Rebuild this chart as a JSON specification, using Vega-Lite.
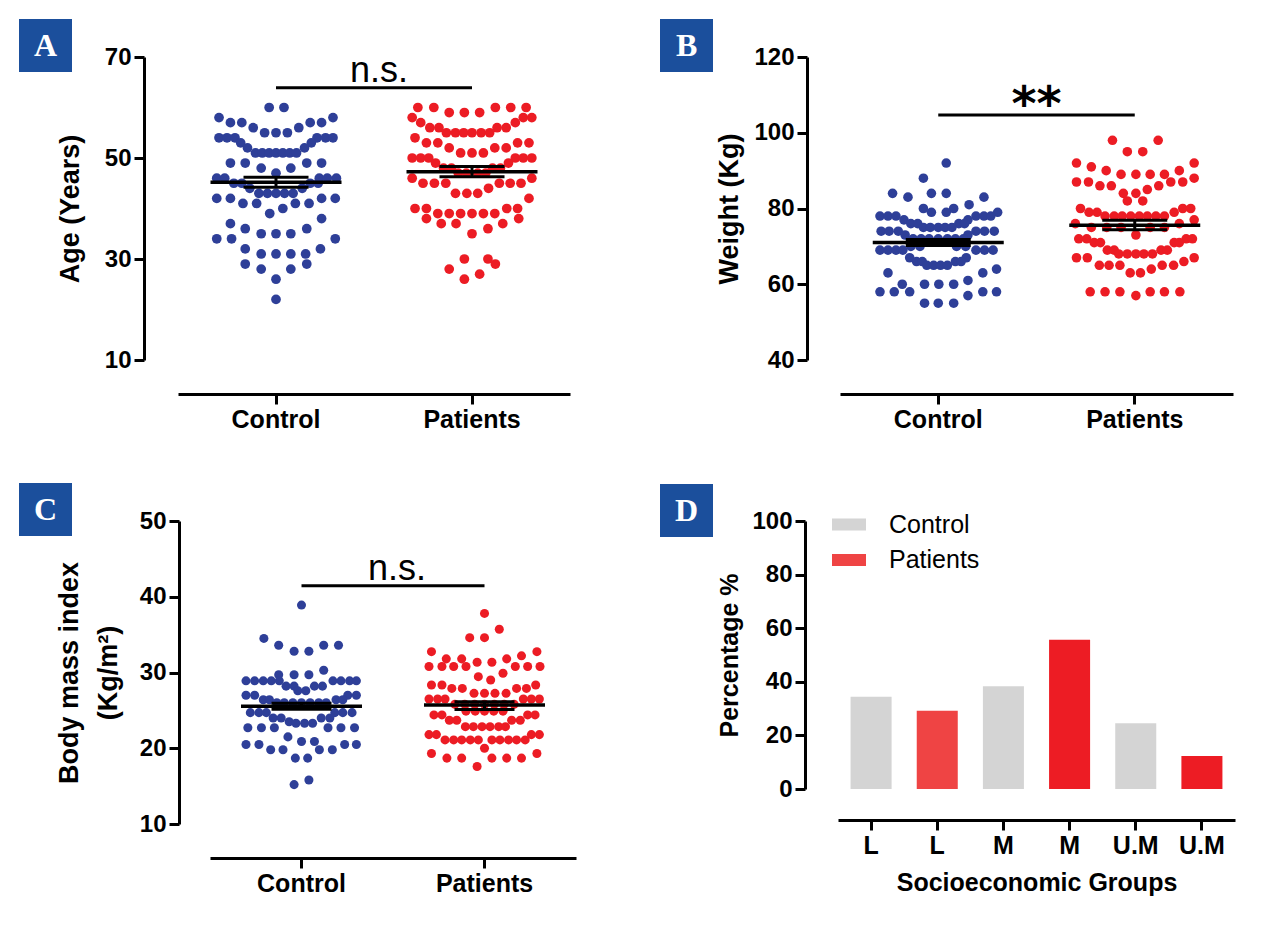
{
"$schema":"https://vega.github.io/schema/vega-lite/v6.json",
"background":"white",
"padding":{"left":18,"top":19,"right":10,"bottom":10},
"config":{"view":{"stroke":null},"font":"Liberation Sans",
"axis":{"grid":false,"domainColor":"#000","domainWidth":3,"tickColor":"#000","tickWidth":3,"tickSize":10,"labelFont":"Liberation Sans","labelFontWeight":"bold","labelFontSize":24,"labelColor":"#000","titleFont":"Liberation Sans","titleFontWeight":"bold","titleFontSize":27,"titleColor":"#000","labelPadding":3},
"axisX":{"labelAngle":0,"labelFontSize":25}},
"resolve":{"scale":{"color":"independent","shape":"independent","xOffset":"independent"},"legend":{"color":"independent","shape":"independent"}},
"datasets":{
"ptsA":[
{"g":"Control","v":60,"s":-0.6},{"g":"Control","v":60,"s":0.7},{"g":"Control","v":58,"s":-5},{"g":"Control","v":58,"s":5},{"g":"Control","v":57,"s":-4},{"g":"Control","v":57,"s":-3},{"g":"Control","v":57,"s":3},{"g":"Control","v":57,"s":4},{"g":"Control","v":56,"s":-2},{"g":"Control","v":56,"s":2},{"g":"Control","v":55,"s":-1},{"g":"Control","v":55,"s":0},{"g":"Control","v":55,"s":1},
{"g":"Control","v":54,"s":-5},{"g":"Control","v":54,"s":-4.3},{"g":"Control","v":54,"s":-3.6},{"g":"Control","v":54,"s":3.6},{"g":"Control","v":54,"s":4.35},{"g":"Control","v":54,"s":5},{"g":"Control","v":53,"s":-3.1},{"g":"Control","v":53,"s":3.1},{"g":"Control","v":52,"s":-2.5},{"g":"Control","v":52,"s":2.5},
{"g":"Control","v":51,"s":-1.8},{"g":"Control","v":51,"s":-1.2},{"g":"Control","v":51,"s":-0.6},{"g":"Control","v":51,"s":0},{"g":"Control","v":51,"s":0.6},{"g":"Control","v":51,"s":1.2},{"g":"Control","v":51,"s":1.8},
{"g":"Control","v":49,"s":-4},{"g":"Control","v":49,"s":-2.7},{"g":"Control","v":49,"s":2.7},{"g":"Control","v":49,"s":4},{"g":"Control","v":48,"s":-1.3},{"g":"Control","v":48,"s":1.3},{"g":"Control","v":47,"s":0},
{"g":"Control","v":46,"s":-5.2},{"g":"Control","v":46,"s":-4.5},{"g":"Control","v":46,"s":3.8},{"g":"Control","v":46,"s":4.5},{"g":"Control","v":46,"s":5.3},{"g":"Control","v":45,"s":-3.7},{"g":"Control","v":45,"s":-3},{"g":"Control","v":45,"s":3},{"g":"Control","v":45,"s":3.7},{"g":"Control","v":44,"s":-2.3},{"g":"Control","v":44,"s":2.3},
{"g":"Control","v":43,"s":-1.5},{"g":"Control","v":43,"s":-0.75},{"g":"Control","v":43,"s":0},{"g":"Control","v":43,"s":0.75},{"g":"Control","v":43,"s":1.5},{"g":"Control","v":42,"s":-5.2},{"g":"Control","v":42,"s":-4},{"g":"Control","v":42,"s":4},{"g":"Control","v":42,"s":5.2},
{"g":"Control","v":41,"s":-2.9},{"g":"Control","v":41,"s":-1.7},{"g":"Control","v":41,"s":1.7},{"g":"Control","v":41,"s":2.9},{"g":"Control","v":40,"s":0.6},{"g":"Control","v":39,"s":-0.55},{"g":"Control","v":38,"s":4},{"g":"Control","v":37,"s":-4},{"g":"Control","v":36,"s":-2.7},{"g":"Control","v":36,"s":2.7},
{"g":"Control","v":35,"s":-1.3},{"g":"Control","v":35,"s":0},{"g":"Control","v":35,"s":1.3},{"g":"Control","v":34,"s":-5.2},{"g":"Control","v":34,"s":-3.9},{"g":"Control","v":34,"s":5.2},{"g":"Control","v":32,"s":-2.7},{"g":"Control","v":32,"s":3.9},
{"g":"Control","v":31,"s":-1.3},{"g":"Control","v":31,"s":0},{"g":"Control","v":31,"s":1.3},{"g":"Control","v":31,"s":2.6},{"g":"Control","v":29,"s":-2.7},{"g":"Control","v":29,"s":2.7},{"g":"Control","v":28,"s":-1.3},{"g":"Control","v":28,"s":1.3},{"g":"Control","v":26,"s":0},{"g":"Control","v":22,"s":0},
{"g":"Patients","v":60,"s":-4.75},{"g":"Patients","v":60,"s":-3.35},{"g":"Patients","v":60,"s":2.05},{"g":"Patients","v":60,"s":3.4},{"g":"Patients","v":60,"s":4.75},{"g":"Patients","v":59,"s":-2},{"g":"Patients","v":59,"s":-0.67},{"g":"Patients","v":59,"s":0.67},
{"g":"Patients","v":58,"s":-5.25},{"g":"Patients","v":58,"s":4.5},{"g":"Patients","v":58,"s":5.25},{"g":"Patients","v":57,"s":-4.5},{"g":"Patients","v":57,"s":3.8},{"g":"Patients","v":56,"s":-3.7},{"g":"Patients","v":56,"s":-2.9},{"g":"Patients","v":56,"s":2.2},{"g":"Patients","v":56,"s":3},
{"g":"Patients","v":55,"s":-2.25},{"g":"Patients","v":55,"s":-1.45},{"g":"Patients","v":55,"s":-0.73},{"g":"Patients","v":55,"s":0},{"g":"Patients","v":55,"s":0.8},{"g":"Patients","v":55,"s":1.55},{"g":"Patients","v":54,"s":-5},
{"g":"Patients","v":53,"s":-4},{"g":"Patients","v":53,"s":-3},{"g":"Patients","v":53,"s":4},{"g":"Patients","v":53,"s":5},{"g":"Patients","v":52,"s":-2},{"g":"Patients","v":52,"s":2},{"g":"Patients","v":52,"s":3},{"g":"Patients","v":51,"s":-1},{"g":"Patients","v":51,"s":0},{"g":"Patients","v":51,"s":1},
{"g":"Patients","v":50,"s":-5.25},{"g":"Patients","v":50,"s":-4.5},{"g":"Patients","v":50,"s":-3.8},{"g":"Patients","v":50,"s":3.8},{"g":"Patients","v":50,"s":4.5},{"g":"Patients","v":50,"s":5.25},{"g":"Patients","v":49,"s":-3.2},{"g":"Patients","v":49,"s":3.2},
{"g":"Patients","v":48,"s":-2.5},{"g":"Patients","v":48,"s":-1.8},{"g":"Patients","v":48,"s":1.8},{"g":"Patients","v":48,"s":2.5},{"g":"Patients","v":47,"s":-1.2},{"g":"Patients","v":47,"s":-0.5},{"g":"Patients","v":47,"s":0.5},{"g":"Patients","v":47,"s":1.2},
{"g":"Patients","v":46,"s":-5.25},{"g":"Patients","v":46,"s":5.25},{"g":"Patients","v":45,"s":-4.3},{"g":"Patients","v":45,"s":-3.3},{"g":"Patients","v":45,"s":-2.3},{"g":"Patients","v":45,"s":2.4},{"g":"Patients","v":45,"s":3.35},{"g":"Patients","v":45,"s":4.3},
{"g":"Patients","v":44,"s":1.45},{"g":"Patients","v":43,"s":-1.45},{"g":"Patients","v":43,"s":-0.45},{"g":"Patients","v":43,"s":0.5},{"g":"Patients","v":42,"s":5},
{"g":"Patients","v":40,"s":-5},{"g":"Patients","v":40,"s":-4},{"g":"Patients","v":40,"s":3.05},{"g":"Patients","v":40,"s":4},{"g":"Patients","v":39,"s":-3},{"g":"Patients","v":39,"s":-2},{"g":"Patients","v":39,"s":-1},{"g":"Patients","v":39,"s":0},{"g":"Patients","v":39,"s":1},{"g":"Patients","v":39,"s":2},
{"g":"Patients","v":38,"s":-4},{"g":"Patients","v":38,"s":4.1},{"g":"Patients","v":37,"s":-2.7},{"g":"Patients","v":37,"s":-1.4},{"g":"Patients","v":37,"s":2.7},{"g":"Patients","v":36,"s":1.4},{"g":"Patients","v":35,"s":0},
{"g":"Patients","v":30,"s":-0.67},{"g":"Patients","v":30,"s":1.4},{"g":"Patients","v":29,"s":2.05},{"g":"Patients","v":28,"s":-2},{"g":"Patients","v":27,"s":0.67},{"g":"Patients","v":26,"s":-0.67}
],
"ptsB":[
{"g":"Control","v":92,"s":0.7},{"g":"Control","v":88,"s":-1.3},{"g":"Control","v":84,"s":-4},{"g":"Control","v":84,"s":-0.6},{"g":"Control","v":84,"s":0.7},{"g":"Control","v":83,"s":-2.65},{"g":"Control","v":83,"s":4},{"g":"Control","v":81,"s":2.7},{"g":"Control","v":80,"s":-1.3},{"g":"Control","v":80,"s":1.35},{"g":"Control","v":79,"s":-0.6},{"g":"Control","v":79,"s":0.7},{"g":"Control","v":79,"s":5.2},
{"g":"Control","v":78,"s":-5.1},{"g":"Control","v":78,"s":-4.4},{"g":"Control","v":78,"s":-3.7},{"g":"Control","v":78,"s":3.3},{"g":"Control","v":78,"s":4},{"g":"Control","v":78,"s":4.6},{"g":"Control","v":77,"s":-3},{"g":"Control","v":77,"s":2.6},
{"g":"Control","v":76,"s":-2.4},{"g":"Control","v":76,"s":-1.8},{"g":"Control","v":76,"s":1.8},{"g":"Control","v":76,"s":2.3},{"g":"Control","v":75,"s":-1.3},{"g":"Control","v":75,"s":-0.7},{"g":"Control","v":75,"s":0},{"g":"Control","v":75,"s":0.6},{"g":"Control","v":75,"s":1.2},
{"g":"Control","v":74,"s":-5},{"g":"Control","v":74,"s":-4.3},{"g":"Control","v":74,"s":-3.5},{"g":"Control","v":74,"s":3.3},{"g":"Control","v":74,"s":4.05},{"g":"Control","v":74,"s":4.9},{"g":"Control","v":73,"s":-2.9},{"g":"Control","v":73,"s":2.6},
{"g":"Control","v":72,"s":-2.2},{"g":"Control","v":72,"s":-1.5},{"g":"Control","v":72,"s":-0.8},{"g":"Control","v":72,"s":0},{"g":"Control","v":72,"s":0.8},{"g":"Control","v":72,"s":1.5},{"g":"Control","v":72,"s":2.2},
{"g":"Control","v":70,"s":-2.4},{"g":"Control","v":70,"s":-1.6},{"g":"Control","v":70,"s":1.6},{"g":"Control","v":70,"s":2.4},
{"g":"Control","v":69,"s":-5.1},{"g":"Control","v":69,"s":-4.4},{"g":"Control","v":69,"s":-3.7},{"g":"Control","v":69,"s":-3.1},{"g":"Control","v":69,"s":3.3},{"g":"Control","v":69,"s":4.05},{"g":"Control","v":69,"s":4.8},
{"g":"Control","v":67,"s":-2.5},{"g":"Control","v":67,"s":2.45},{"g":"Control","v":66,"s":-1.9},{"g":"Control","v":66,"s":-1.4},{"g":"Control","v":66,"s":1.5},{"g":"Control","v":66,"s":2},
{"g":"Control","v":65,"s":-1},{"g":"Control","v":65,"s":-0.4},{"g":"Control","v":65,"s":0.2},{"g":"Control","v":65,"s":0.8},{"g":"Control","v":64,"s":5.1},{"g":"Control","v":63,"s":-4.4},{"g":"Control","v":63,"s":3.9},{"g":"Control","v":61,"s":2.6},
{"g":"Control","v":60,"s":-3.15},{"g":"Control","v":60,"s":-1.2},{"g":"Control","v":60,"s":0.05},{"g":"Control","v":60,"s":1.35},
{"g":"Control","v":58,"s":-5.1},{"g":"Control","v":58,"s":-3.85},{"g":"Control","v":58,"s":-2.5},{"g":"Control","v":58,"s":3.9},{"g":"Control","v":58,"s":5.1},{"g":"Control","v":57,"s":2.6},{"g":"Control","v":55,"s":-1.2},{"g":"Control","v":55,"s":0},{"g":"Control","v":55,"s":1.35},
{"g":"Patients","v":98,"s":-1.95},{"g":"Patients","v":98,"s":2.05},{"g":"Patients","v":95,"s":-0.65},{"g":"Patients","v":95,"s":0.7},{"g":"Patients","v":92,"s":-5.1},{"g":"Patients","v":92,"s":5.2},{"g":"Patients","v":91,"s":-3.8},{"g":"Patients","v":90,"s":-2.5},{"g":"Patients","v":90,"s":3.9},
{"g":"Patients","v":89,"s":-1.2},{"g":"Patients","v":89,"s":0.1},{"g":"Patients","v":89,"s":1.35},{"g":"Patients","v":89,"s":2.6},{"g":"Patients","v":88,"s":5.2},{"g":"Patients","v":87,"s":-5.1},{"g":"Patients","v":87,"s":-4.05},{"g":"Patients","v":87,"s":3.15},{"g":"Patients","v":87,"s":4.2},
{"g":"Patients","v":86,"s":-3.05},{"g":"Patients","v":86,"s":-2.05},{"g":"Patients","v":86,"s":2.1},{"g":"Patients","v":85,"s":1.1},{"g":"Patients","v":84,"s":-1},{"g":"Patients","v":84,"s":0.1},{"g":"Patients","v":82,"s":-0.65},{"g":"Patients","v":82,"s":0.7},
{"g":"Patients","v":80,"s":-4.75},{"g":"Patients","v":80,"s":4.2},{"g":"Patients","v":80,"s":4.9},{"g":"Patients","v":79,"s":-4},{"g":"Patients","v":79,"s":-3.3},{"g":"Patients","v":79,"s":3.45},
{"g":"Patients","v":78,"s":-2.6},{"g":"Patients","v":78,"s":-1.8},{"g":"Patients","v":78,"s":-1.1},{"g":"Patients","v":78,"s":-0.35},{"g":"Patients","v":78,"s":0.4},{"g":"Patients","v":78,"s":1.1},{"g":"Patients","v":78,"s":1.85},{"g":"Patients","v":78,"s":2.6},
{"g":"Patients","v":77,"s":5.2},{"g":"Patients","v":76,"s":-5.2},{"g":"Patients","v":76,"s":3.9},{"g":"Patients","v":75,"s":-3.8},{"g":"Patients","v":75,"s":-2.45},{"g":"Patients","v":75,"s":-1.2},{"g":"Patients","v":75,"s":1.35},{"g":"Patients","v":75,"s":2.6},{"g":"Patients","v":73,"s":0.1},
{"g":"Patients","v":72,"s":-4.9},{"g":"Patients","v":72,"s":-4.2},{"g":"Patients","v":72,"s":4.5},{"g":"Patients","v":72,"s":5.05},{"g":"Patients","v":71,"s":-3.55},{"g":"Patients","v":71,"s":-3},{"g":"Patients","v":71,"s":3.45},{"g":"Patients","v":71,"s":3.9},
{"g":"Patients","v":69,"s":-2.4},{"g":"Patients","v":69,"s":-1.8},{"g":"Patients","v":69,"s":2.3},{"g":"Patients","v":69,"s":2.85},{"g":"Patients","v":68,"s":-1.4},{"g":"Patients","v":68,"s":-0.65},{"g":"Patients","v":68,"s":0.1},{"g":"Patients","v":68,"s":0.8},{"g":"Patients","v":68,"s":1.55},
{"g":"Patients","v":67,"s":-5.1},{"g":"Patients","v":67,"s":-4.15},{"g":"Patients","v":67,"s":5.2},{"g":"Patients","v":66,"s":4.3},{"g":"Patients","v":65,"s":-3.1},{"g":"Patients","v":65,"s":-2.25},{"g":"Patients","v":65,"s":-1.3},{"g":"Patients","v":65,"s":2.4},{"g":"Patients","v":65,"s":3.4},
{"g":"Patients","v":64,"s":1.45},{"g":"Patients","v":63,"s":-0.4},{"g":"Patients","v":63,"s":0.5},
{"g":"Patients","v":58,"s":-3.9},{"g":"Patients","v":58,"s":-2.6},{"g":"Patients","v":58,"s":-1.3},{"g":"Patients","v":58,"s":1.35},{"g":"Patients","v":58,"s":2.6},{"g":"Patients","v":58,"s":3.95},{"g":"Patients","v":57,"s":0.1}
],
"ptsC":[
{"g":"Control","v":38.9,"s":0},{"g":"Control","v":34.5,"s":-3.05},{"g":"Control","v":33.6,"s":-1.85},{"g":"Control","v":33.6,"s":1.8},{"g":"Control","v":33.6,"s":3},{"g":"Control","v":32.8,"s":-0.6},{"g":"Control","v":32.8,"s":0.6},{"g":"Control","v":30.3,"s":1.8},
{"g":"Control","v":29.7,"s":-1.85},{"g":"Control","v":29.7,"s":-0.6},{"g":"Control","v":29.7,"s":0.6},
{"g":"Control","v":28.9,"s":-4.5},{"g":"Control","v":28.9,"s":-3.8},{"g":"Control","v":28.9,"s":-3.1},{"g":"Control","v":28.9,"s":-2.45},{"g":"Control","v":28.9,"s":-1.8},{"g":"Control","v":28.9,"s":2.55},{"g":"Control","v":28.9,"s":3.2},{"g":"Control","v":28.9,"s":3.9},{"g":"Control","v":28.9,"s":4.45},
{"g":"Control","v":28.2,"s":-1.25},{"g":"Control","v":28.2,"s":-0.6},{"g":"Control","v":28.2,"s":1.05},{"g":"Control","v":28.2,"s":1.7},{"g":"Control","v":27.6,"s":-0.3},{"g":"Control","v":27.6,"s":0.35},
{"g":"Control","v":27,"s":-4.5},{"g":"Control","v":27,"s":-3.8},{"g":"Control","v":27,"s":3.75},{"g":"Control","v":27,"s":4.45},{"g":"Control","v":26.4,"s":-3.1},{"g":"Control","v":26.4,"s":-2.6},{"g":"Control","v":26.4,"s":2.8},{"g":"Control","v":26.4,"s":3.35},
{"g":"Control","v":26,"s":-2},{"g":"Control","v":26,"s":-1.4},{"g":"Control","v":26,"s":-0.7},{"g":"Control","v":26,"s":0},{"g":"Control","v":26,"s":0.7},{"g":"Control","v":26,"s":1.4},{"g":"Control","v":26,"s":2},
{"g":"Control","v":24.7,"s":-4.15},{"g":"Control","v":24.7,"s":-3.45},{"g":"Control","v":24.7,"s":-2.85},{"g":"Control","v":24.7,"s":2.7},{"g":"Control","v":24.7,"s":3.35},{"g":"Control","v":24.7,"s":4.1},
{"g":"Control","v":24,"s":-2.3},{"g":"Control","v":24,"s":-1.65},{"g":"Control","v":24,"s":1.6},{"g":"Control","v":24,"s":2.3},{"g":"Control","v":23.5,"s":-1},{"g":"Control","v":23.3,"s":-0.45},{"g":"Control","v":23.3,"s":0.25},{"g":"Control","v":23.3,"s":0.9},
{"g":"Control","v":22.7,"s":-4.35},{"g":"Control","v":22.7,"s":-3.25},{"g":"Control","v":22.7,"s":-2.2},{"g":"Control","v":22.7,"s":2.15},{"g":"Control","v":22.7,"s":3.2},{"g":"Control","v":22.7,"s":4.3},
{"g":"Control","v":21.5,"s":-1.1},{"g":"Control","v":20.9,"s":0},{"g":"Control","v":20.9,"s":1.05},{"g":"Control","v":20.5,"s":-4.5},{"g":"Control","v":20.5,"s":-3.45},{"g":"Control","v":20.5,"s":3.5},{"g":"Control","v":20.5,"s":4.45},
{"g":"Control","v":19.8,"s":-2.5},{"g":"Control","v":19.8,"s":-1.5},{"g":"Control","v":19.8,"s":1.45},{"g":"Control","v":19.8,"s":2.5},{"g":"Control","v":18.7,"s":-0.5},{"g":"Control","v":18.7,"s":0.5},{"g":"Control","v":15.8,"s":0.6},{"g":"Control","v":15.2,"s":-0.6},
{"g":"Patients","v":37.8,"s":0},{"g":"Patients","v":35.7,"s":1.2},{"g":"Patients","v":34.6,"s":-1.2},{"g":"Patients","v":34.6,"s":0},{"g":"Patients","v":32.75,"s":-4.3},{"g":"Patients","v":32.75,"s":4.25},{"g":"Patients","v":32.2,"s":3},
{"g":"Patients","v":31.8,"s":-3.1},{"g":"Patients","v":31.8,"s":-1.85},{"g":"Patients","v":31.8,"s":1.8},{"g":"Patients","v":31.35,"s":-0.6},{"g":"Patients","v":31.35,"s":0.6},
{"g":"Patients","v":30.8,"s":-4.5},{"g":"Patients","v":30.8,"s":-3.45},{"g":"Patients","v":30.8,"s":-2.5},{"g":"Patients","v":30.8,"s":-1.5},{"g":"Patients","v":30.8,"s":2.5},{"g":"Patients","v":30.8,"s":3.5},{"g":"Patients","v":30.8,"s":4.5},
{"g":"Patients","v":29.9,"s":1.5},{"g":"Patients","v":29.45,"s":-0.5},{"g":"Patients","v":29,"s":0.5},
{"g":"Patients","v":28.35,"s":-4.3},{"g":"Patients","v":28.35,"s":-3.45},{"g":"Patients","v":28.35,"s":4.15},{"g":"Patients","v":27.9,"s":-2.65},{"g":"Patients","v":27.9,"s":-1.8},{"g":"Patients","v":27.9,"s":2.6},{"g":"Patients","v":27.9,"s":3.4},
{"g":"Patients","v":27.25,"s":-0.85},{"g":"Patients","v":27.25,"s":0},{"g":"Patients","v":27.25,"s":0.85},{"g":"Patients","v":27.25,"s":1.75},
{"g":"Patients","v":26.5,"s":-4.5},{"g":"Patients","v":26.5,"s":-3.8},{"g":"Patients","v":26.5,"s":-3.2},{"g":"Patients","v":26.5,"s":3.15},{"g":"Patients","v":26.5,"s":3.8},{"g":"Patients","v":26.5,"s":4.45},
{"g":"Patients","v":25.8,"s":-2.4},{"g":"Patients","v":25.8,"s":-1.6},{"g":"Patients","v":25.8,"s":-0.8},{"g":"Patients","v":25.8,"s":0},{"g":"Patients","v":25.8,"s":0.8},{"g":"Patients","v":25.8,"s":1.6},{"g":"Patients","v":25.8,"s":2.4},
{"g":"Patients","v":24.9,"s":-1.5},{"g":"Patients","v":24.9,"s":-0.75},{"g":"Patients","v":24.9,"s":0},{"g":"Patients","v":24.9,"s":0.75},{"g":"Patients","v":24.9,"s":1.5},
{"g":"Patients","v":24.4,"s":-4.1},{"g":"Patients","v":24.4,"s":-3.45},{"g":"Patients","v":24.4,"s":3.5},{"g":"Patients","v":24.4,"s":4.1},{"g":"Patients","v":23.7,"s":-2.85},{"g":"Patients","v":23.7,"s":-2.25},{"g":"Patients","v":23.7,"s":2.2},{"g":"Patients","v":23.7,"s":2.9},
{"g":"Patients","v":22.85,"s":-1.55},{"g":"Patients","v":22.85,"s":-0.9},{"g":"Patients","v":22.85,"s":-0.2},{"g":"Patients","v":22.85,"s":0.45},{"g":"Patients","v":22.85,"s":1.15},{"g":"Patients","v":22.85,"s":1.7},
{"g":"Patients","v":21.8,"s":-4.5},{"g":"Patients","v":21.8,"s":-3.9},{"g":"Patients","v":21.8,"s":3.8},{"g":"Patients","v":21.8,"s":4.45},
{"g":"Patients","v":21.1,"s":-3.2},{"g":"Patients","v":21.1,"s":-2.5},{"g":"Patients","v":21.1,"s":-1.85},{"g":"Patients","v":21.1,"s":-1.15},{"g":"Patients","v":21.1,"s":-0.5},{"g":"Patients","v":21.1,"s":0.6},{"g":"Patients","v":21.1,"s":1.25},{"g":"Patients","v":21.1,"s":1.95},{"g":"Patients","v":21.1,"s":2.6},{"g":"Patients","v":21.1,"s":3.3},
{"g":"Patients","v":20,"s":0},{"g":"Patients","v":19.3,"s":-4.3},{"g":"Patients","v":19.3,"s":4.25},{"g":"Patients","v":18.7,"s":-3.05},{"g":"Patients","v":18.7,"s":-1.85},{"g":"Patients","v":18.7,"s":0.6},{"g":"Patients","v":18.7,"s":1.8},{"g":"Patients","v":18.7,"s":3},{"g":"Patients","v":17.6,"s":-0.6}
],
"sum":[
{"p":"A","g":"Control","mean":45.2,"lo":44.2,"hi":46.2},{"p":"A","g":"Patients","mean":47.3,"lo":46.3,"hi":48.3},
{"p":"B","g":"Control","mean":71.0,"lo":70.2,"hi":71.8},{"p":"B","g":"Patients","mean":75.6,"lo":74.4,"hi":76.9},
{"p":"C","g":"Control","mean":25.55,"lo":25.15,"hi":25.95},{"p":"C","g":"Patients","mean":25.7,"lo":25.1,"hi":26.15}
],
"sig":[
{"p":"A","x1":"Control","x2":"Patients","y":63.9,"ty":65.1,"t":"n.s."},
{"p":"B","x1":"Control","x2":"Patients","y":104.7,"ty":103.4,"t":"**"},
{"p":"C","x1":"Control","x2":"Patients","y":41.46,"ty":42.2,"t":"n.s."}
],
"bars":[
{"cat":"L|Control","lvl":"L","grp":"Control","pct":34.4},
{"cat":"L|Patients","lvl":"L","grp":"Patients","pct":29.2},
{"cat":"M|Control","lvl":"M","grp":"Control","pct":38.3},
{"cat":"M|Patients","lvl":"M","grp":"Patients","pct":55.7},
{"cat":"U.M|Control","lvl":"U.M","grp":"Control","pct":24.5},
{"cat":"U.M|Patients","lvl":"U.M","grp":"Patients","pct":12.3}
],
"none":[]
},
"spacing":51,
"vconcat":[
{"resolve":{"scale":{"color":"independent","shape":"independent","xOffset":"independent"},"legend":{"color":"independent","shape":"independent"}},
"spacing":90,
"hconcat":[
{"resolve":{"scale":{"color":"independent","shape":"independent","xOffset":"independent"},"legend":{"color":"independent","shape":"independent"}},
"spacing":0,
"hconcat":[
{"width":1,"height":1,"data":{"name":"none"},"mark":"point"},
{"width":392,"height":303,"layer":[
{"data":{"name":"ptsA"},"mark":{"type":"point","filled":true,"size":95,"opacity":1,"strokeWidth":0},
"encoding":{
"x":{"field":"g","type":"nominal","scale":{"type":"band","domain":["Control","Patients"],"paddingInner":0,"paddingOuter":0},"axis":{"title":null,"offset":34}},
"xOffset":{"field":"s","type":"quantitative","scale":{"domain":[-8.6,8.6],"range":[0,196]}},
"y":{"field":"v","type":"quantitative","scale":{"domain":[10,70],"nice":false,"zero":false},"axis":{"title":"Age (Years)","values":[10,30,50,70],"offset":34,"titlePadding":20}},
"color":{"field":"g","type":"nominal","scale":{"domain":["Control","Patients"],"range":["#2e3f98","#ec1c24"]},"legend":null},
"shape":{"datum":"A","scale":{"range":["circle"]},"legend":{"title":null,"orient":"none","legendX":-159,"legendY":-38,"fillColor":"#1b4f9c","padding":10,"symbolOpacity":0,"symbolSize":1089,"symbolStrokeWidth":0,"labelOffset":-28,"labelFont":"Liberation Serif","labelFontWeight":"bold","labelFontSize":32,"labelColor":"white"}}}},
{"data":{"name":"sum"},"transform":[{"filter":"datum.p=='A'"}],"mark":{"type":"tick","color":"black","opacity":1,"thickness":3.5,"size":131},"encoding":{"x":{"field":"g","type":"nominal"},"y":{"field":"mean","type":"quantitative"}}},
{"data":{"name":"sum"},"transform":[{"filter":"datum.p=='A'"}],"mark":{"type":"tick","color":"black","opacity":1,"thickness":3,"size":65},"encoding":{"x":{"field":"g","type":"nominal"},"y":{"field":"lo","type":"quantitative"}}},
{"data":{"name":"sum"},"transform":[{"filter":"datum.p=='A'"}],"mark":{"type":"tick","color":"black","opacity":1,"thickness":3,"size":65},"encoding":{"x":{"field":"g","type":"nominal"},"y":{"field":"hi","type":"quantitative"}}},
{"data":{"name":"sum"},"transform":[{"filter":"datum.p=='A'"}],"mark":{"type":"rule","color":"black","opacity":1,"strokeWidth":3},"encoding":{"x":{"field":"g","type":"nominal"},"y":{"field":"lo","type":"quantitative"},"y2":{"field":"hi"}}},
{"data":{"name":"sig"},"transform":[{"filter":"datum.p=='A'"}],"mark":{"type":"rule","color":"black","opacity":1,"strokeWidth":3},"encoding":{"x":{"field":"x1","type":"nominal"},"x2":{"field":"x2"},"y":{"field":"y","type":"quantitative"}}},
{"data":{"name":"sig"},"transform":[{"filter":"datum.p=='A'"}],"mark":{"type":"text","color":"black","font":"Liberation Sans","fontSize":36,"baseline":"alphabetic","align":"center","dx":5},"encoding":{"x":{"field":"x1","type":"nominal","bandPosition":1},"y":{"field":"ty","type":"quantitative"},"text":{"field":"t"}}}
]}
]},
{"width":393,"height":303,"layer":[
{"data":{"name":"ptsB"},"mark":{"type":"point","filled":true,"size":92,"opacity":1,"strokeWidth":0},
"encoding":{
"x":{"field":"g","type":"nominal","scale":{"type":"band","domain":["Control","Patients"],"paddingInner":0,"paddingOuter":0},"axis":{"title":null,"offset":34}},
"xOffset":{"field":"s","type":"quantitative","scale":{"domain":[-8.6,8.6],"range":[0,196.5]}},
"y":{"field":"v","type":"quantitative","scale":{"domain":[40,120],"nice":false,"zero":false},"axis":{"title":"Weight (Kg)","values":[40,60,80,100,120],"offset":33,"titlePadding":10}},
"color":{"field":"g","type":"nominal","scale":{"domain":["Control","Patients"],"range":["#2e3f98","#ec1c24"]},"legend":null},
"shape":{"datum":"B","scale":{"range":["circle"]},"legend":{"title":null,"orient":"none","legendX":-180,"legendY":-38,"fillColor":"#1b4f9c","padding":10,"symbolOpacity":0,"symbolSize":1089,"symbolStrokeWidth":0,"labelOffset":-27,"labelFont":"Liberation Serif","labelFontWeight":"bold","labelFontSize":32,"labelColor":"white"}}}},
{"data":{"name":"sum"},"transform":[{"filter":"datum.p=='B'"}],"mark":{"type":"tick","color":"black","opacity":1,"thickness":3.5,"size":131},"encoding":{"x":{"field":"g","type":"nominal"},"y":{"field":"mean","type":"quantitative"}}},
{"data":{"name":"sum"},"transform":[{"filter":"datum.p=='B'"}],"mark":{"type":"tick","color":"black","opacity":1,"thickness":3,"size":65},"encoding":{"x":{"field":"g","type":"nominal"},"y":{"field":"lo","type":"quantitative"}}},
{"data":{"name":"sum"},"transform":[{"filter":"datum.p=='B'"}],"mark":{"type":"tick","color":"black","opacity":1,"thickness":3,"size":65},"encoding":{"x":{"field":"g","type":"nominal"},"y":{"field":"hi","type":"quantitative"}}},
{"data":{"name":"sum"},"transform":[{"filter":"datum.p=='B'"}],"mark":{"type":"rule","color":"black","opacity":1,"strokeWidth":3},"encoding":{"x":{"field":"g","type":"nominal"},"y":{"field":"lo","type":"quantitative"},"y2":{"field":"hi"}}},
{"data":{"name":"sig"},"transform":[{"filter":"datum.p=='B'"}],"mark":{"type":"rule","color":"black","opacity":1,"strokeWidth":3},"encoding":{"x":{"field":"x1","type":"nominal"},"x2":{"field":"x2"},"y":{"field":"y","type":"quantitative"}}},
{"data":{"name":"sig"},"transform":[{"filter":"datum.p=='B'"}],"mark":{"type":"text","color":"black","font":"DejaVu Sans","fontWeight":"bold","fontSize":48,"baseline":"alphabetic","align":"center"},"encoding":{"x":{"field":"x1","type":"nominal","bandPosition":1},"y":{"field":"ty","type":"quantitative"},"text":{"field":"t"}}}
]}
]},
{"resolve":{"scale":{"color":"independent","shape":"independent","xOffset":"independent"},"legend":{"color":"independent","shape":"independent"}},
"spacing":84,
"hconcat":[
{"resolve":{"scale":{"color":"independent","shape":"independent","xOffset":"independent"},"legend":{"color":"independent","shape":"independent"}},
"spacing":0,
"hconcat":[
{"width":1,"height":1,"data":{"name":"none"},"mark":"point"},
{"width":366,"height":303,"layer":[
{"data":{"name":"ptsC"},"mark":{"type":"point","filled":true,"size":82,"opacity":1,"strokeWidth":0},
"encoding":{
"x":{"field":"g","type":"nominal","scale":{"type":"band","domain":["Control","Patients"],"paddingInner":0,"paddingOuter":0},"axis":{"title":null,"offset":34}},
"xOffset":{"field":"s","type":"quantitative","scale":{"domain":[-7.42,7.42],"range":[0,183]}},
"y":{"field":"v","type":"quantitative","scale":{"domain":[10,50],"nice":false,"zero":false},"axis":{"title":["Body mass index","(Kg/m²)"],"titleLineHeight":39,"values":[10,20,30,40,50],"offset":31,"titlePadding":17}},
"color":{"field":"g","type":"nominal","scale":{"domain":["Control","Patients"],"range":["#2e3f98","#ec1c24"]},"legend":null},
"shape":{"datum":"C","scale":{"range":["circle"]},"legend":{"title":null,"orient":"none","legendX":-191,"legendY":-38,"fillColor":"#1b4f9c","padding":10,"symbolOpacity":0,"symbolSize":1089,"symbolStrokeWidth":0,"labelOffset":-28,"labelFont":"Liberation Serif","labelFontWeight":"bold","labelFontSize":32,"labelColor":"white"}}}},
{"data":{"name":"sum"},"transform":[{"filter":"datum.p=='C'"}],"mark":{"type":"tick","color":"black","opacity":1,"thickness":3.5,"size":121},"encoding":{"x":{"field":"g","type":"nominal"},"y":{"field":"mean","type":"quantitative"}}},
{"data":{"name":"sum"},"transform":[{"filter":"datum.p=='C'"}],"mark":{"type":"tick","color":"black","opacity":1,"thickness":3,"size":60},"encoding":{"x":{"field":"g","type":"nominal"},"y":{"field":"lo","type":"quantitative"}}},
{"data":{"name":"sum"},"transform":[{"filter":"datum.p=='C'"}],"mark":{"type":"tick","color":"black","opacity":1,"thickness":3,"size":60},"encoding":{"x":{"field":"g","type":"nominal"},"y":{"field":"hi","type":"quantitative"}}},
{"data":{"name":"sum"},"transform":[{"filter":"datum.p=='C'"}],"mark":{"type":"rule","color":"black","opacity":1,"strokeWidth":3},"encoding":{"x":{"field":"g","type":"nominal"},"y":{"field":"lo","type":"quantitative"},"y2":{"field":"hi"}}},
{"data":{"name":"sig"},"transform":[{"filter":"datum.p=='C'"}],"mark":{"type":"rule","color":"black","opacity":1,"strokeWidth":3},"encoding":{"x":{"field":"x1","type":"nominal"},"x2":{"field":"x2"},"y":{"field":"y","type":"quantitative"}}},
{"data":{"name":"sig"},"transform":[{"filter":"datum.p=='C'"}],"mark":{"type":"text","color":"black","font":"Liberation Sans","fontSize":36,"baseline":"alphabetic","align":"center","dx":4},"encoding":{"x":{"field":"x1","type":"nominal","bandPosition":1},"y":{"field":"ty","type":"quantitative"},"text":{"field":"t"}}}
]}
]},
{"width":397,"height":268,"data":{"name":"bars"},"layer":[
{"mark":{"type":"bar","width":{"band":1}},"encoding":{
"x":{"field":"cat","type":"nominal","sort":null,"scale":{"type":"band","domain":["L|Control","L|Patients","M|Control","M|Patients","U.M|Control","U.M|Patients"],"paddingInner":0.38,"paddingOuter":0.19},"axis":{"title":"Socioeconomic Groups","titleFontSize":25,"labelExpr":"split(datum.label,'|')[0]","offset":31,"titlePadding":12}},
"y":{"field":"pct","type":"quantitative","scale":{"domain":[0,100],"nice":false},"axis":{"title":"Percentage %","titleFontSize":25,"values":[0,20,40,60,80,100],"offset":33,"titlePadding":9}},
"color":{"condition":{"test":"datum.grp=='Patients' && datum.lvl!='L'","value":"#ed1c24"},"field":"grp","type":"nominal","scale":{"domain":["Control","Patients"],"range":["#d4d4d4","#ef4444"]},"legend":{"title":null,"orient":"none","legendX":-6,"legendY":-13.5,"symbolType":"M-1,-0.35H1V0.35H-1Z","symbolSize":1156,"symbolStrokeWidth":0,"symbolOpacity":1,"labelFontSize":25,"labelFont":"Liberation Sans","labelColor":"#000","labelOffset":23,"rowPadding":5.5}}}},
{"mark":{"type":"point","opacity":0},"encoding":{
"x":{"field":"cat","type":"nominal"},
"y":{"field":"pct","type":"quantitative"},
"shape":{"datum":"D","scale":{"range":["circle"]},"legend":{"title":null,"orient":"none","legendX":-178,"legendY":-37,"fillColor":"#1b4f9c","padding":10,"symbolOpacity":0,"symbolSize":1089,"symbolStrokeWidth":0,"labelOffset":-28,"labelFont":"Liberation Serif","labelFontWeight":"bold","labelFontSize":32,"labelColor":"white"}}}}
]}
]}
]
}
